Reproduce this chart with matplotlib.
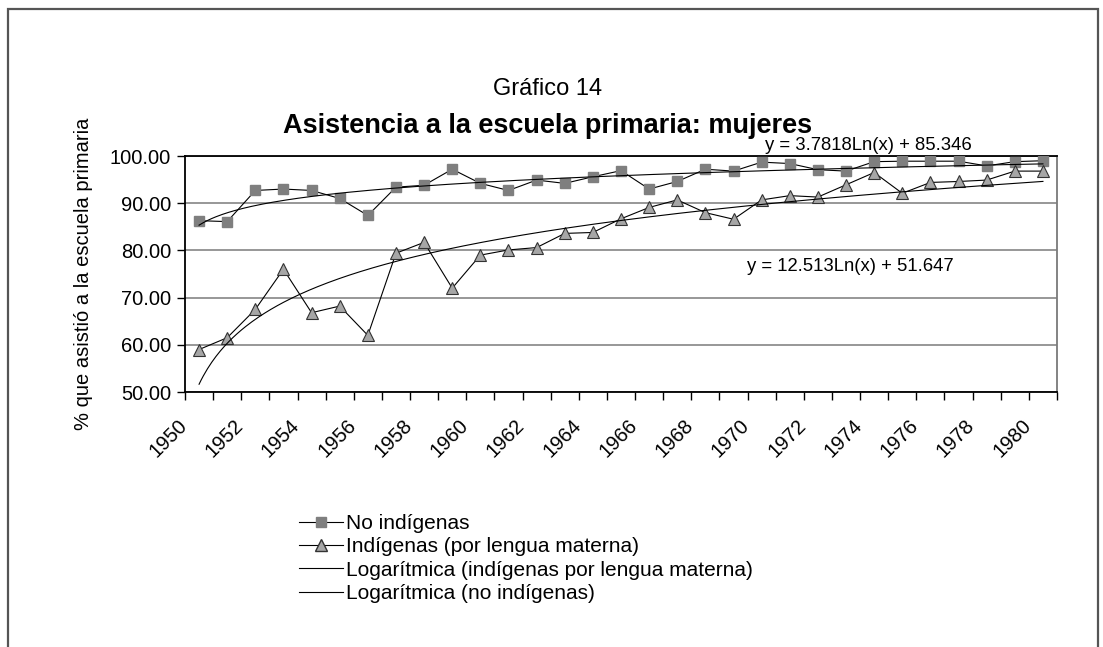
import numpy as np
import matplotlib.pyplot as plt
from matplotlib.lines import Line2D
from matplotlib.patches import Rectangle
from matplotlib.transforms import ScaledTranslation

plt.rcParams['font.family'] = ['Liberation Sans', 'DejaVu Sans']

# data
years = list(range(1950, 1981))
no_indigenas = [86.3, 86.1, 92.7, 93.0, 92.7, 91.0, 87.4, 93.4, 93.8, 97.2,
                94.2, 92.7, 94.9, 94.2, 95.6, 96.9, 93.0, 94.6, 97.2, 96.8,
                98.7, 98.4, 97.1, 96.8, 98.8, 98.9, 98.9, 98.9, 97.9, 98.8, 99.0]
indigenas = [59.0, 61.5, 67.5, 76.0, 66.8, 68.2, 62.0, 79.4, 81.7, 72.0,
             79.0, 80.1, 80.6, 83.6, 83.8, 86.7, 89.1, 90.7, 88.0, 86.6,
             90.7, 91.6, 91.3, 93.9, 96.5, 92.1, 94.4, 94.6, 94.9, 96.8, 96.8]
# trendline coefficients printed on the chart: y = a*Ln(x) + b
trend_no = (3.7818, 85.346)
trend_ind = (12.513, 51.647)

labels = ['No indígenas', 'Indígenas (por lengua materna)',
          'Logarítmica (indígenas por lengua materna)', 'Logarítmica (no indígenas)']

fig = plt.figure(figsize=(11.03, 6.47), dpi=100)
W, H = 1103, 647

# outer chart frame
fig.add_artist(Rectangle((8 / W, -0.05), (1098 - 8) / W, 1.05 - 9 / H,
                         transform=fig.transFigure, fill=False,
                         edgecolor='#555555', lw=1.6))

ax = fig.add_axes([185 / W, 1 - 392 / H, (1057 - 185) / W, (392 - 156) / H])

pos = np.arange(len(years))
xs = np.linspace(1, len(years), 400)

ax.plot(pos, no_indigenas, color='black', lw=0.8, marker='s', ms=7.3,
        mfc='#7f7f7f', mec='#7f7f7f', zorder=3)
ax.plot(pos, indigenas, color='black', lw=0.8, marker='^', ms=8.5,
        mfc='#a6a6a6', mec='#333333', mew=0.8, zorder=3)
ax.plot(xs - 1, trend_ind[0] * np.log(xs) + trend_ind[1], color='black', lw=0.8, zorder=4)
ax.plot(xs - 1, trend_no[0] * np.log(xs) + trend_no[1], color='black', lw=0.8, zorder=4)

ax.set_xlim(-0.5, len(years) - 0.5)
ax.set_ylim(50, 100)
ax.set_yticks(np.arange(50, 101, 10))
ax.set_yticklabels(['%.2f' % v for v in np.arange(50, 101, 10)], fontsize=14.5)
ax.yaxis.grid(True, color='#7a7a7a', lw=1.1)
ax.set_axisbelow(True)

ax.set_xticks(pos[::2])
ax.set_xticklabels([str(y) for y in years[::2]], fontsize=14.5, rotation=45,
                   ha='right', va='center', rotation_mode='anchor')
ax.set_xticks(np.arange(-0.5, len(years), 1), minor=True)
ax.tick_params(axis='x', which='major', length=0, pad=22)
ax.tick_params(axis='x', which='minor', length=6, width=1, direction='out')
ax.tick_params(axis='y', length=6, width=1, direction='out', pad=4)
for lab in ax.get_xticklabels():
    lab.set_transform(lab.get_transform() + ScaledTranslation(-0.15, 0, fig.dpi_scale_trans))

for side in ['left', 'bottom', 'top']:
    ax.spines[side].set_color('black')
    ax.spines[side].set_linewidth(1.3)
ax.spines['right'].set_color('#7a7a7a')
ax.spines['right'].set_linewidth(1.3)

ax.set_ylabel('% que asistió a la escuela primaria', fontsize=14.5, labelpad=12)

ax.text(0.9025, 102.3, 'y = 3.7818Ln(x) + 85.346', fontsize=13.3, ha='right',
        va='center', transform=ax.get_yaxis_transform())
ax.text(0.882, 76.5, 'y = 12.513Ln(x) + 51.647', fontsize=13.3, ha='right',
        va='center', transform=ax.get_yaxis_transform())

fig.text(548 / W, 1 - 89 / H, 'Gráfico 14', fontsize=17, ha='center', va='center')
fig.text(548 / W, 1 - 126 / H, 'Asistencia a la escuela primaria: mujeres',
         fontsize=19.5, fontweight='bold', ha='center', va='center')

handles = [
    Line2D([], [], color='black', lw=0.8, marker='s', ms=7, mfc='#7f7f7f', mec='#7f7f7f'),
    Line2D([], [], color='black', lw=0.8, marker='^', ms=8.5, mfc='#a6a6a6', mec='#333333'),
    Line2D([], [], color='black', lw=0.8),
    Line2D([], [], color='black', lw=0.8),
]
fig.legend(handles, labels, loc='upper left', bbox_to_anchor=(291 / W, 1 - 506 / H),
           frameon=False, fontsize=15, handlelength=2.1, handletextpad=0.15,
           labelspacing=0.2, borderaxespad=0)

fig.savefig('out.png', dpi=100)
